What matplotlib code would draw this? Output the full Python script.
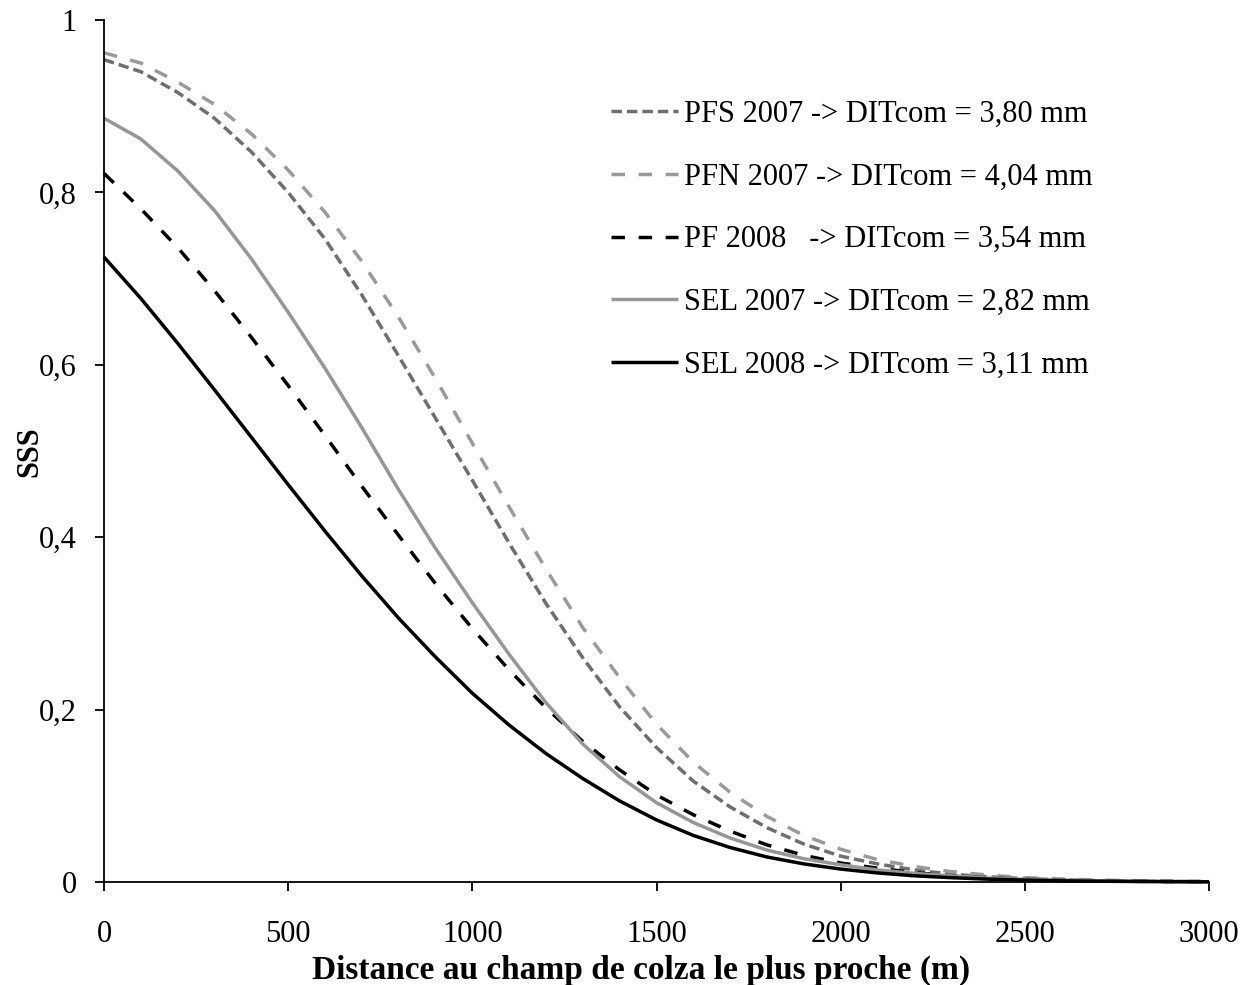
import matplotlib
matplotlib.use('Agg')
import matplotlib.pyplot as plt

plt.rcParams['font.family'] = ['Liberation Serif', 'DejaVu Serif']

# distance (m)
distance = list(range(0, 3001, 100))

pfs_2007 = [0.954, 0.940, 0.916, 0.886, 0.847, 0.800, 0.746, 0.681, 0.610, 0.538,
            0.466, 0.393, 0.323, 0.260, 0.203, 0.156, 0.117, 0.087, 0.063, 0.044,
            0.030, 0.021, 0.014, 0.009, 0.006, 0.004, 0.0025, 0.0016, 0.0010, 0.0006,
            0.0004]
pfn_2007 = [0.962, 0.950, 0.928, 0.902, 0.868, 0.826, 0.777, 0.720, 0.655, 0.584,
            0.509, 0.435, 0.363, 0.295, 0.237, 0.183, 0.139, 0.104, 0.076, 0.054,
            0.038, 0.026, 0.018, 0.012, 0.008, 0.005, 0.0035, 0.0023, 0.0015, 0.0010,
            0.0006]
pf_2008 = [0.822, 0.781, 0.736, 0.686, 0.632, 0.576, 0.518, 0.459, 0.402, 0.346,
           0.294, 0.246, 0.202, 0.163, 0.130, 0.101, 0.078, 0.059, 0.043, 0.031,
           0.022, 0.016, 0.011, 0.007, 0.0048, 0.0031, 0.0020, 0.0012, 0.0008, 0.0005,
           0.0003]
sel_2007 = [0.886, 0.862, 0.825, 0.779, 0.723, 0.661, 0.596, 0.527, 0.455, 0.387,
            0.324, 0.264, 0.208, 0.160, 0.122, 0.092, 0.069, 0.051, 0.037, 0.027,
            0.020, 0.014, 0.010, 0.007, 0.0045, 0.0030, 0.0020, 0.0013, 0.0008, 0.0005,
            0.0003]
sel_2008 = [0.725, 0.677, 0.625, 0.571, 0.516, 0.461, 0.407, 0.355, 0.306, 0.261,
            0.219, 0.182, 0.149, 0.120, 0.094, 0.072, 0.054, 0.040, 0.029, 0.021,
            0.015, 0.0105, 0.0072, 0.0050, 0.0033, 0.0022, 0.0014, 0.0009, 0.0006, 0.0004,
            0.0002]

labels = ["PFS 2007 -> DITcom = 3,80 mm",
          "PFN 2007 -> DITcom = 4,04 mm",
          "PF 2008   -> DITcom = 3,54 mm",
          "SEL 2007 -> DITcom = 2,82 mm",
          "SEL 2008 -> DITcom = 3,11 mm"]

x_ticks = [0, 500, 1000, 1500, 2000, 2500, 3000]
y_ticks = [0, 0.2, 0.4, 0.6, 0.8, 1.0]
y_ticklabels = ["0", "0,2", "0,4", "0,6", "0,8", "1"]

W, H = 1254, 985
fig = plt.figure(figsize=(W / 100, H / 100), dpi=100)
ax = fig.add_axes([104 / W, 1 - 882 / H, 1105 / W, 862 / H])

lw = 2.5
series = [
    (pfs_2007, dict(color='#6e6e6e', linestyle=(0, (3.0, 1.45)))),
    (pfn_2007, dict(color='#9a9a9a', linestyle=(0, (3.9, 3.9)))),
    (pf_2008, dict(color='#000000', linestyle=(0, (3.9, 3.9)))),
    (sel_2007, dict(color='#969696', linestyle='-')),
    (sel_2008, dict(color='#000000', linestyle='-')),
]
handles = []
for vals, st in series:
    h, = ax.plot(distance, vals, linewidth=lw, solid_capstyle='butt',
                 dash_capstyle='butt', solid_joinstyle='round',
                 clip_on=False, **st)
    handles.append(h)

ax.set_xlim(0, 3000)
ax.set_ylim(0, 1)
ax.set_xticks(x_ticks)
ax.set_xticklabels([str(v) for v in x_ticks])
ax.set_yticks(y_ticks)
ax.set_yticklabels(y_ticklabels)

for s in ['top', 'right']:
    ax.spines[s].set_visible(False)
for s in ['left', 'bottom']:
    ax.spines[s].set_linewidth(1.3)
    ax.spines[s].set_color('black')

ax.tick_params(axis='both', direction='out', length=6.5, width=1.3,
               labelsize=22, colors='black')
ax.tick_params(axis='x', pad=21)
ax.tick_params(axis='y', pad=13)

fig.text(641 / W, 1 - 970 / H, "Distance au champ de colza le plus proche (m)",
         ha='center', va='center', fontsize=24, fontweight='bold')
fig.text(30 / W, 1 - 452 / H, "SSS", ha='center', va='center',
         rotation=90, fontsize=22, fontweight='bold')

ax.legend(handles, labels, loc='upper left',
          bbox_to_anchor=(611 / W, 1 - 100 / H), bbox_transform=fig.transFigure,
          frameon=False, fontsize=22, handlelength=2.2, handletextpad=0.2,
          labelspacing=1.1, borderpad=0, borderaxespad=0)

fig.savefig('out.png', dpi=100)
